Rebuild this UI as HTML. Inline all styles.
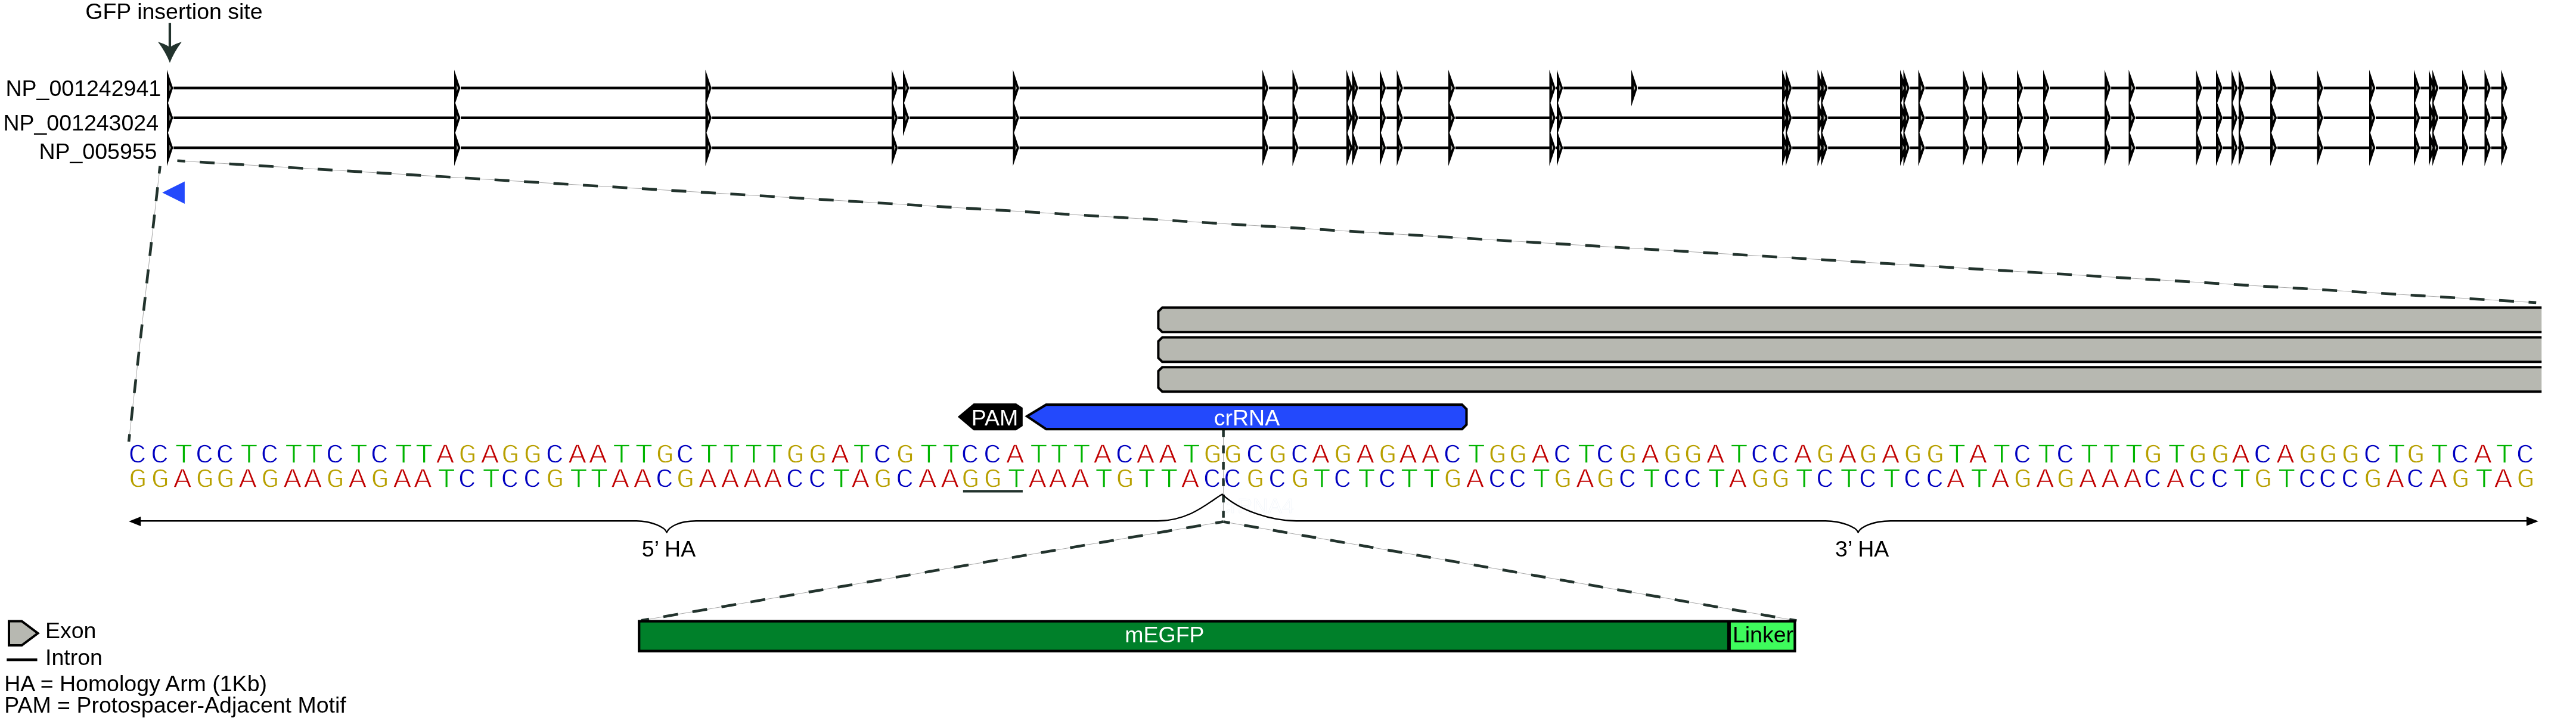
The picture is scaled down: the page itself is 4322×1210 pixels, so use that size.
<!DOCTYPE html>
<html lang="en"><head><meta charset="utf-8"><title>GFP insertion site</title>
<style>html,body{margin:0;padding:0;background:#fff}body{width:4322px;height:1210px;overflow:hidden}svg{display:block;will-change:transform}</style>
</head><body>
<svg width="4322" height="1210" viewBox="0 0 4322 1210">
<rect width="4322" height="1210" fill="#fff"/>
<text x="2046.5" y="861.3" font-family='"Liberation Sans", Arial, sans-serif' font-size="35.5" fill="#fff" stroke="#f1f5fa" stroke-width="0.7">crRNA4</text>
<g id="zoomlines">
<line x1="297.5" y1="269.74" x2="4255.2" y2="507.9" stroke="#a8a8a8" stroke-width="1"/>
<line x1="297.5" y1="269.74" x2="4255.2" y2="507.9" stroke="#22332d" stroke-width="4.6" stroke-dasharray="25 24.55" stroke-dashoffset="11.9"/>
<line x1="268.5" y1="278.7" x2="216.07" y2="741.25" stroke="#a8a8a8" stroke-width="1"/>
<line x1="268.5" y1="278.7" x2="216.07" y2="741.25" stroke="#22332d" stroke-width="4.6" stroke-dasharray="23.25 23.09" stroke-dashoffset="10.6"/>
<line x1="2052.6" y1="720" x2="2052.6" y2="868.8" stroke="#a8a8a8" stroke-width="1"/>
<line x1="2052.6" y1="720" x2="2052.6" y2="868.8" stroke="#22332d" stroke-width="4.5" stroke-dasharray="13.2 14.3" stroke-dashoffset="0"/>
<line x1="2052.4" y1="875.5" x2="1076" y2="1041.3" stroke="#a8a8a8" stroke-width="1"/>
<line x1="2052.4" y1="875.5" x2="1076" y2="1041.3" stroke="#22332d" stroke-width="4.6" stroke-dasharray="25 24.44" stroke-dashoffset="11.5"/>
<line x1="2052.4" y1="875.5" x2="3014.4" y2="1041.6" stroke="#a8a8a8" stroke-width="1"/>
<line x1="2052.4" y1="875.5" x2="3014.4" y2="1041.6" stroke="#22332d" stroke-width="4.6" stroke-dasharray="24.6 24.26" stroke-dashoffset="13.25"/>
</g>
<path fill="#2349fc" d="M272.2,323.3L309.9,304.4L309.9,342.1Z"/>
<g id="tracks">
<line x1="288" y1="147.75" x2="4203" y2="147.75" stroke="#000" stroke-width="4.4"/>
<line x1="288" y1="197.8" x2="4203" y2="197.8" stroke="#000" stroke-width="4.4"/>
<line x1="288" y1="248" x2="4203" y2="248" stroke="#000" stroke-width="4.4"/>
<path fill="#fff" d="M289.9,144.75h1.2v6h-1.2ZM289.9,194.8h1.2v6h-1.2ZM289.9,245h1.2v6h-1.2ZM771.9,144.75h1.2v6h-1.2ZM771.9,194.8h1.2v6h-1.2ZM771.9,245h1.2v6h-1.2ZM1193.4,144.75h1.2v6h-1.2ZM1193.4,194.8h1.2v6h-1.2ZM1193.4,245h1.2v6h-1.2ZM1505.9,144.75h1.2v6h-1.2ZM1505.9,194.8h1.2v6h-1.2ZM1505.9,245h1.2v6h-1.2ZM1524.9,144.75h1.2v6h-1.2ZM1524.9,194.8h1.2v6h-1.2ZM1709.4,144.75h1.2v6h-1.2ZM1709.4,194.8h1.2v6h-1.2ZM1709.4,245h1.2v6h-1.2ZM2127.9,144.75h1.2v6h-1.2ZM2127.9,194.8h1.2v6h-1.2ZM2127.9,245h1.2v6h-1.2ZM2178.4,144.75h1.2v6h-1.2ZM2178.4,194.8h1.2v6h-1.2ZM2178.4,245h1.2v6h-1.2ZM2268.9,144.75h1.2v6h-1.2ZM2268.9,194.8h1.2v6h-1.2ZM2268.9,245h1.2v6h-1.2ZM2278.4,144.75h1.2v6h-1.2ZM2278.4,194.8h1.2v6h-1.2ZM2278.4,245h1.2v6h-1.2ZM2324.9,144.75h1.2v6h-1.2ZM2324.9,194.8h1.2v6h-1.2ZM2324.9,245h1.2v6h-1.2ZM2353.4,144.75h1.2v6h-1.2ZM2353.4,194.8h1.2v6h-1.2ZM2353.4,245h1.2v6h-1.2ZM2440.6,144.75h1.2v6h-1.2ZM2440.6,194.8h1.2v6h-1.2ZM2440.6,245h1.2v6h-1.2ZM2609.4,144.75h1.2v6h-1.2ZM2609.4,194.8h1.2v6h-1.2ZM2609.4,245h1.2v6h-1.2ZM2621.9,144.75h1.2v6h-1.2ZM2621.9,194.8h1.2v6h-1.2ZM2621.9,245h1.2v6h-1.2ZM2746.9,144.75h1.2v6h-1.2ZM2999.9,144.75h1.2v6h-1.2ZM2999.9,194.8h1.2v6h-1.2ZM2999.9,245h1.2v6h-1.2ZM3005.9,144.75h1.2v6h-1.2ZM3005.9,194.8h1.2v6h-1.2ZM3005.9,245h1.2v6h-1.2ZM3059.3,144.75h1.2v6h-1.2ZM3059.3,194.8h1.2v6h-1.2ZM3059.3,245h1.2v6h-1.2ZM3066,144.75h1.2v6h-1.2ZM3066,194.8h1.2v6h-1.2ZM3066,245h1.2v6h-1.2ZM3197.9,144.75h1.2v6h-1.2ZM3197.9,194.8h1.2v6h-1.2ZM3197.9,245h1.2v6h-1.2ZM3203.4,144.75h1.2v6h-1.2ZM3203.4,194.8h1.2v6h-1.2ZM3203.4,245h1.2v6h-1.2ZM3229.1,144.75h1.2v6h-1.2ZM3229.1,194.8h1.2v6h-1.2ZM3229.1,245h1.2v6h-1.2ZM3303.4,144.75h1.2v6h-1.2ZM3303.4,194.8h1.2v6h-1.2ZM3303.4,245h1.2v6h-1.2ZM3334.9,144.75h1.2v6h-1.2ZM3334.9,194.8h1.2v6h-1.2ZM3334.9,245h1.2v6h-1.2ZM3393.9,144.75h1.2v6h-1.2ZM3393.9,194.8h1.2v6h-1.2ZM3393.9,245h1.2v6h-1.2ZM3437.9,144.75h1.2v6h-1.2ZM3437.9,194.8h1.2v6h-1.2ZM3437.9,245h1.2v6h-1.2ZM3540.9,144.75h1.2v6h-1.2ZM3540.9,194.8h1.2v6h-1.2ZM3540.9,245h1.2v6h-1.2ZM3582.1,144.75h1.2v6h-1.2ZM3582.1,194.8h1.2v6h-1.2ZM3582.1,245h1.2v6h-1.2ZM3694.4,144.75h1.2v6h-1.2ZM3694.4,194.8h1.2v6h-1.2ZM3694.4,245h1.2v6h-1.2ZM3728.6,144.75h1.2v6h-1.2ZM3728.6,194.8h1.2v6h-1.2ZM3728.6,245h1.2v6h-1.2ZM3753.9,144.75h1.2v6h-1.2ZM3753.9,194.8h1.2v6h-1.2ZM3753.9,245h1.2v6h-1.2ZM3765.9,144.75h1.2v6h-1.2ZM3765.9,194.8h1.2v6h-1.2ZM3765.9,245h1.2v6h-1.2ZM3819.6,144.75h1.2v6h-1.2ZM3819.6,194.8h1.2v6h-1.2ZM3819.6,245h1.2v6h-1.2ZM3897.4,144.75h1.2v6h-1.2ZM3897.4,194.8h1.2v6h-1.2ZM3897.4,245h1.2v6h-1.2ZM3984.9,144.75h1.2v6h-1.2ZM3984.9,194.8h1.2v6h-1.2ZM3984.9,245h1.2v6h-1.2ZM4059.9,144.75h1.2v6h-1.2ZM4059.9,194.8h1.2v6h-1.2ZM4059.9,245h1.2v6h-1.2ZM4084.9,144.75h1.2v6h-1.2ZM4084.9,194.8h1.2v6h-1.2ZM4084.9,245h1.2v6h-1.2ZM4090.9,144.75h1.2v6h-1.2ZM4090.9,194.8h1.2v6h-1.2ZM4090.9,245h1.2v6h-1.2ZM4140.9,144.75h1.2v6h-1.2ZM4140.9,194.8h1.2v6h-1.2ZM4140.9,245h1.2v6h-1.2ZM4178.4,144.75h1.2v6h-1.2ZM4178.4,194.8h1.2v6h-1.2ZM4178.4,245h1.2v6h-1.2ZM4206.4,144.75h1.2v6h-1.2ZM4206.4,194.8h1.2v6h-1.2ZM4206.4,245h1.2v6h-1.2Z"/>
<path fill="#000" d="M280,116.95L290.2,147.75L280,178.55ZM280,167L290.2,197.8L280,228.6ZM280,217.2L290.2,248L280,278.8ZM762,116.95L772.2,147.75L762,178.55ZM762,167L772.2,197.8L762,228.6ZM762,217.2L772.2,248L762,278.8ZM1183.5,116.95L1193.7,147.75L1183.5,178.55ZM1183.5,167L1193.7,197.8L1183.5,228.6ZM1183.5,217.2L1193.7,248L1183.5,278.8ZM1496,116.95L1506.2,147.75L1496,178.55ZM1496,167L1506.2,197.8L1496,228.6ZM1496,217.2L1506.2,248L1496,278.8ZM1515,116.95L1525.2,147.75L1515,178.55ZM1515,167L1525.2,197.8L1515,228.6ZM1699.5,116.95L1709.7,147.75L1699.5,178.55ZM1699.5,167L1709.7,197.8L1699.5,228.6ZM1699.5,217.2L1709.7,248L1699.5,278.8ZM2118,116.95L2128.2,147.75L2118,178.55ZM2118,167L2128.2,197.8L2118,228.6ZM2118,217.2L2128.2,248L2118,278.8ZM2168.5,116.95L2178.7,147.75L2168.5,178.55ZM2168.5,167L2178.7,197.8L2168.5,228.6ZM2168.5,217.2L2178.7,248L2168.5,278.8ZM2259,116.95L2269.2,147.75L2259,178.55ZM2259,167L2269.2,197.8L2259,228.6ZM2259,217.2L2269.2,248L2259,278.8ZM2268.5,116.95L2278.7,147.75L2268.5,178.55ZM2268.5,167L2278.7,197.8L2268.5,228.6ZM2268.5,217.2L2278.7,248L2268.5,278.8ZM2315,116.95L2325.2,147.75L2315,178.55ZM2315,167L2325.2,197.8L2315,228.6ZM2315,217.2L2325.2,248L2315,278.8ZM2343.5,116.95L2353.7,147.75L2343.5,178.55ZM2343.5,167L2353.7,197.8L2343.5,228.6ZM2343.5,217.2L2353.7,248L2343.5,278.8ZM2430,116.95L2440.9,147.75L2430,178.55ZM2430,167L2440.9,197.8L2430,228.6ZM2430,217.2L2440.9,248L2430,278.8ZM2599.5,116.95L2609.7,147.75L2599.5,178.55ZM2599.5,167L2609.7,197.8L2599.5,228.6ZM2599.5,217.2L2609.7,248L2599.5,278.8ZM2612,116.95L2622.2,147.75L2612,178.55ZM2612,167L2622.2,197.8L2612,228.6ZM2612,217.2L2622.2,248L2612,278.8ZM2737,116.95L2747.2,147.75L2737,178.55ZM2990,116.95L3000.2,147.75L2990,178.55ZM2990,167L3000.2,197.8L2990,228.6ZM2990,217.2L3000.2,248L2990,278.8ZM2996,116.95L3006.2,147.75L2996,178.55ZM2996,167L3006.2,197.8L2996,228.6ZM2996,217.2L3006.2,248L2996,278.8ZM3049.4,116.95L3059.6,147.75L3049.4,178.55ZM3049.4,167L3059.6,197.8L3049.4,228.6ZM3049.4,217.2L3059.6,248L3049.4,278.8ZM3055.4,116.95L3066.3,147.75L3055.4,178.55ZM3055.4,167L3066.3,197.8L3055.4,228.6ZM3055.4,217.2L3066.3,248L3055.4,278.8ZM3188,116.95L3198.2,147.75L3188,178.55ZM3188,167L3198.2,197.8L3188,228.6ZM3188,217.2L3198.2,248L3188,278.8ZM3193.5,116.95L3203.7,147.75L3193.5,178.55ZM3193.5,167L3203.7,197.8L3193.5,228.6ZM3193.5,217.2L3203.7,248L3193.5,278.8ZM3218.5,116.95L3229.4,147.75L3218.5,178.55ZM3218.5,167L3229.4,197.8L3218.5,228.6ZM3218.5,217.2L3229.4,248L3218.5,278.8ZM3293.5,116.95L3303.7,147.75L3293.5,178.55ZM3293.5,167L3303.7,197.8L3293.5,228.6ZM3293.5,217.2L3303.7,248L3293.5,278.8ZM3325,116.95L3335.2,147.75L3325,178.55ZM3325,167L3335.2,197.8L3325,228.6ZM3325,217.2L3335.2,248L3325,278.8ZM3384,116.95L3394.2,147.75L3384,178.55ZM3384,167L3394.2,197.8L3384,228.6ZM3384,217.2L3394.2,248L3384,278.8ZM3428,116.95L3438.2,147.75L3428,178.55ZM3428,167L3438.2,197.8L3428,228.6ZM3428,217.2L3438.2,248L3428,278.8ZM3531,116.95L3541.2,147.75L3531,178.55ZM3531,167L3541.2,197.8L3531,228.6ZM3531,217.2L3541.2,248L3531,278.8ZM3571.5,116.95L3582.4,147.75L3571.5,178.55ZM3571.5,167L3582.4,197.8L3571.5,228.6ZM3571.5,217.2L3582.4,248L3571.5,278.8ZM3684.5,116.95L3694.7,147.75L3684.5,178.55ZM3684.5,167L3694.7,197.8L3684.5,228.6ZM3684.5,217.2L3694.7,248L3684.5,278.8ZM3718,116.95L3728.9,147.75L3718,178.55ZM3718,167L3728.9,197.8L3718,228.6ZM3718,217.2L3728.9,248L3718,278.8ZM3744,116.95L3754.2,147.75L3744,178.55ZM3744,167L3754.2,197.8L3744,228.6ZM3744,217.2L3754.2,248L3744,278.8ZM3756,116.95L3766.2,147.75L3756,178.55ZM3756,167L3766.2,197.8L3756,228.6ZM3756,217.2L3766.2,248L3756,278.8ZM3809,116.95L3819.9,147.75L3809,178.55ZM3809,167L3819.9,197.8L3809,228.6ZM3809,217.2L3819.9,248L3809,278.8ZM3887.5,116.95L3897.7,147.75L3887.5,178.55ZM3887.5,167L3897.7,197.8L3887.5,228.6ZM3887.5,217.2L3897.7,248L3887.5,278.8ZM3975,116.95L3985.2,147.75L3975,178.55ZM3975,167L3985.2,197.8L3975,228.6ZM3975,217.2L3985.2,248L3975,278.8ZM4050,116.95L4060.2,147.75L4050,178.55ZM4050,167L4060.2,197.8L4050,228.6ZM4050,217.2L4060.2,248L4050,278.8ZM4075,116.95L4085.2,147.75L4075,178.55ZM4075,167L4085.2,197.8L4075,228.6ZM4075,217.2L4085.2,248L4075,278.8ZM4081,116.95L4091.2,147.75L4081,178.55ZM4081,167L4091.2,197.8L4081,228.6ZM4081,217.2L4091.2,248L4081,278.8ZM4131,116.95L4141.2,147.75L4131,178.55ZM4131,167L4141.2,197.8L4131,228.6ZM4131,217.2L4141.2,248L4131,278.8ZM4168.5,116.95L4178.7,147.75L4168.5,178.55ZM4168.5,167L4178.7,197.8L4168.5,228.6ZM4168.5,217.2L4178.7,248L4168.5,278.8ZM4196.5,116.95L4206.7,147.75L4196.5,178.55ZM4196.5,167L4206.7,197.8L4196.5,228.6ZM4196.5,217.2L4206.7,248L4196.5,278.8Z"/>
<path fill="#b7b8b1" d="M284.3,142.55L286.6,147.75L284.3,152.95ZM284.3,192.6L286.6,197.8L284.3,203ZM284.3,242.8L286.6,248L284.3,253.2ZM766.3,142.55L768.6,147.75L766.3,152.95ZM766.3,192.6L768.6,197.8L766.3,203ZM766.3,242.8L768.6,248L766.3,253.2ZM1187.8,142.55L1190.1,147.75L1187.8,152.95ZM1187.8,192.6L1190.1,197.8L1187.8,203ZM1187.8,242.8L1190.1,248L1187.8,253.2ZM1500.3,142.55L1502.6,147.75L1500.3,152.95ZM1500.3,192.6L1502.6,197.8L1500.3,203ZM1500.3,242.8L1502.6,248L1500.3,253.2ZM1519.3,142.55L1521.6,147.75L1519.3,152.95ZM1519.3,192.6L1521.6,197.8L1519.3,203ZM1703.8,142.55L1706.1,147.75L1703.8,152.95ZM1703.8,192.6L1706.1,197.8L1703.8,203ZM1703.8,242.8L1706.1,248L1703.8,253.2ZM2122.3,142.55L2124.6,147.75L2122.3,152.95ZM2122.3,192.6L2124.6,197.8L2122.3,203ZM2122.3,242.8L2124.6,248L2122.3,253.2ZM2172.8,142.55L2175.1,147.75L2172.8,152.95ZM2172.8,192.6L2175.1,197.8L2172.8,203ZM2172.8,242.8L2175.1,248L2172.8,253.2ZM2263.3,142.55L2265.6,147.75L2263.3,152.95ZM2263.3,192.6L2265.6,197.8L2263.3,203ZM2263.3,242.8L2265.6,248L2263.3,253.2ZM2272.8,142.55L2275.1,147.75L2272.8,152.95ZM2272.8,192.6L2275.1,197.8L2272.8,203ZM2272.8,242.8L2275.1,248L2272.8,253.2ZM2319.3,142.55L2321.6,147.75L2319.3,152.95ZM2319.3,192.6L2321.6,197.8L2319.3,203ZM2319.3,242.8L2321.6,248L2319.3,253.2ZM2347.8,142.55L2350.1,147.75L2347.8,152.95ZM2347.8,192.6L2350.1,197.8L2347.8,203ZM2347.8,242.8L2350.1,248L2347.8,253.2ZM2434.3,142.55L2437.3,147.75L2434.3,152.95ZM2434.3,192.6L2437.3,197.8L2434.3,203ZM2434.3,242.8L2437.3,248L2434.3,253.2ZM2603.8,142.55L2606.1,147.75L2603.8,152.95ZM2603.8,192.6L2606.1,197.8L2603.8,203ZM2603.8,242.8L2606.1,248L2603.8,253.2ZM2616.3,142.55L2618.6,147.75L2616.3,152.95ZM2616.3,192.6L2618.6,197.8L2616.3,203ZM2616.3,242.8L2618.6,248L2616.3,253.2ZM2741.3,142.55L2743.6,147.75L2741.3,152.95ZM2994.3,142.55L2996.6,147.75L2994.3,152.95ZM2994.3,192.6L2996.6,197.8L2994.3,203ZM2994.3,242.8L2996.6,248L2994.3,253.2ZM3000.3,142.55L3002.6,147.75L3000.3,152.95ZM3000.3,192.6L3002.6,197.8L3000.3,203ZM3000.3,242.8L3002.6,248L3000.3,253.2ZM3053.7,142.55L3056,147.75L3053.7,152.95ZM3053.7,192.6L3056,197.8L3053.7,203ZM3053.7,242.8L3056,248L3053.7,253.2ZM3059.7,142.55L3062.7,147.75L3059.7,152.95ZM3059.7,192.6L3062.7,197.8L3059.7,203ZM3059.7,242.8L3062.7,248L3059.7,253.2ZM3192.3,142.55L3194.6,147.75L3192.3,152.95ZM3192.3,192.6L3194.6,197.8L3192.3,203ZM3192.3,242.8L3194.6,248L3192.3,253.2ZM3197.8,142.55L3200.1,147.75L3197.8,152.95ZM3197.8,192.6L3200.1,197.8L3197.8,203ZM3197.8,242.8L3200.1,248L3197.8,253.2ZM3222.8,142.55L3225.8,147.75L3222.8,152.95ZM3222.8,192.6L3225.8,197.8L3222.8,203ZM3222.8,242.8L3225.8,248L3222.8,253.2ZM3297.8,142.55L3300.1,147.75L3297.8,152.95ZM3297.8,192.6L3300.1,197.8L3297.8,203ZM3297.8,242.8L3300.1,248L3297.8,253.2ZM3329.3,142.55L3331.6,147.75L3329.3,152.95ZM3329.3,192.6L3331.6,197.8L3329.3,203ZM3329.3,242.8L3331.6,248L3329.3,253.2ZM3388.3,142.55L3390.6,147.75L3388.3,152.95ZM3388.3,192.6L3390.6,197.8L3388.3,203ZM3388.3,242.8L3390.6,248L3388.3,253.2ZM3432.3,142.55L3434.6,147.75L3432.3,152.95ZM3432.3,192.6L3434.6,197.8L3432.3,203ZM3432.3,242.8L3434.6,248L3432.3,253.2ZM3535.3,142.55L3537.6,147.75L3535.3,152.95ZM3535.3,192.6L3537.6,197.8L3535.3,203ZM3535.3,242.8L3537.6,248L3535.3,253.2ZM3575.8,142.55L3578.8,147.75L3575.8,152.95ZM3575.8,192.6L3578.8,197.8L3575.8,203ZM3575.8,242.8L3578.8,248L3575.8,253.2ZM3688.8,142.55L3691.1,147.75L3688.8,152.95ZM3688.8,192.6L3691.1,197.8L3688.8,203ZM3688.8,242.8L3691.1,248L3688.8,253.2ZM3722.3,142.55L3725.3,147.75L3722.3,152.95ZM3722.3,192.6L3725.3,197.8L3722.3,203ZM3722.3,242.8L3725.3,248L3722.3,253.2ZM3748.3,142.55L3750.6,147.75L3748.3,152.95ZM3748.3,192.6L3750.6,197.8L3748.3,203ZM3748.3,242.8L3750.6,248L3748.3,253.2ZM3760.3,142.55L3762.6,147.75L3760.3,152.95ZM3760.3,192.6L3762.6,197.8L3760.3,203ZM3760.3,242.8L3762.6,248L3760.3,253.2ZM3813.3,142.55L3816.3,147.75L3813.3,152.95ZM3813.3,192.6L3816.3,197.8L3813.3,203ZM3813.3,242.8L3816.3,248L3813.3,253.2ZM3891.8,142.55L3894.1,147.75L3891.8,152.95ZM3891.8,192.6L3894.1,197.8L3891.8,203ZM3891.8,242.8L3894.1,248L3891.8,253.2ZM3979.3,142.55L3981.6,147.75L3979.3,152.95ZM3979.3,192.6L3981.6,197.8L3979.3,203ZM3979.3,242.8L3981.6,248L3979.3,253.2ZM4054.3,142.55L4056.6,147.75L4054.3,152.95ZM4054.3,192.6L4056.6,197.8L4054.3,203ZM4054.3,242.8L4056.6,248L4054.3,253.2ZM4079.3,142.55L4081.6,147.75L4079.3,152.95ZM4079.3,192.6L4081.6,197.8L4079.3,203ZM4079.3,242.8L4081.6,248L4079.3,253.2ZM4085.3,142.55L4087.6,147.75L4085.3,152.95ZM4085.3,192.6L4087.6,197.8L4085.3,203ZM4085.3,242.8L4087.6,248L4085.3,253.2ZM4135.3,142.55L4137.6,147.75L4135.3,152.95ZM4135.3,192.6L4137.6,197.8L4135.3,203ZM4135.3,242.8L4137.6,248L4135.3,253.2ZM4172.8,142.55L4175.1,147.75L4172.8,152.95ZM4172.8,192.6L4175.1,197.8L4172.8,203ZM4172.8,242.8L4175.1,248L4172.8,253.2ZM4200.8,142.55L4203.1,147.75L4200.8,152.95ZM4200.8,192.6L4203.1,197.8L4200.8,203ZM4200.8,242.8L4203.1,248L4200.8,253.2Z"/>
</g>
<g font-family='"Liberation Sans", Arial, sans-serif' font-size="37.5" fill="#000">
<text x="143.3" y="32">GFP insertion site</text>
<text x="9.5" y="161">NP_001242941</text>
<text x="5.4" y="219">NP_001243024</text>
<text x="65.4" y="267">NP_005955</text>
</g>
<line x1="284.95" y1="38.7" x2="284.95" y2="82" stroke="#22332d" stroke-width="4.2"/>
<path fill="#22332d" d="M265,70.2 Q276,73.4 283,78 L287,78 Q294,73.4 304.9,70.2 Q291.5,88 284.95,105.6 Q278.4,88 265,70.2Z"/>
<g id="exons" stroke="#000" stroke-width="4" fill="#b7b8b1" stroke-linejoin="miter">
<path d="M4264.25,516.25L1950,516.25L1943.4,522.85L1943.4,550.65L1950,557.25L4264.25,557.25"/>
<path d="M4264.25,566.25L1950,566.25L1943.4,572.85L1943.4,600.65L1950,607.25L4264.25,607.25"/>
<path d="M4264.25,616.25L1950,616.25L1943.4,622.85L1943.4,650.65L1950,657.25L4264.25,657.25"/>
</g>
<path fill="#000" d="M1606.8,699.4L1633.7,677.1L1704.8,677.1L1715.8,684.3L1715.8,714.9L1704.8,722.2L1633.7,722.2Z"/>
<path fill="#2349fc" stroke="#000" stroke-width="4.1" d="M1723.2,698.6L1755.3,679.15L2453,679.15L2460.5,686.6L2460.5,712.6L2453,720.1L1755.3,720.1Z"/>
<g font-family='"Liberation Sans", Arial, sans-serif' font-size="37.5" fill="#fff">
<text x="1669" y="713.75" text-anchor="middle">PAM</text>
<text x="2092" y="713.75" text-anchor="middle">crRNA</text>
</g>
<style>.A{fill:#c00000}.C{fill:#0000c0}.G{fill:#b8a000}.T{fill:#00b400}</style>
<g font-family='"Liberation Mono", "DejaVu Sans Mono", monospace' font-size="45.5" text-anchor="middle" stroke="#fff" stroke-width="1.3" transform="scale(1.13,1)">
<text x="204.03 237.21 273.05 303.58 334 369.85 400.38 436.22 466.64 497.17 533.01 563.54 599.38 629.8 660.95 694.14 727.32 757.74 790.93 823.5 857.3 887.72 922.94 956.13 987.28 1017.08 1052.92 1086.11 1119.29 1149.71 1180.86 1214.05 1247.23 1279.69 1310.22 1344.03 1379.25 1412.43 1440.2 1473.38 1507.19 1542.41 1572.83 1606.02 1637.17 1669.73 1700.77 1733.96 1769.18 1800.33 1830.75 1863.32 1897.12 1929.69 1960.73 1993.92 2027.1 2060.29 2090.71 2123.89 2156.46 2192.3 2223.45 2253.87 2287.06 2319.62 2355.46 2383.23 2417.04 2450.22 2483.41 2513.83 2547.01 2582.23 2612.77 2643.19 2676.99 2710.18 2743.36 2773.78 2806.97 2840.15 2873.34 2905.8 2936.95 2972.17 3002.7 3038.54 3066.31 3102.15 3135.33 3168.52 3196.9 3232.12 3263.27 3296.46 3326.88 3359.45 3393.25 3426.44 3456.86 3490.04 3522.61 3558.45 3586.84 3622.06 3652.59 3686.39 3718.85 3749.38" y="777.3"><tspan class="C">CC</tspan><tspan class="T">T</tspan><tspan class="C">CC</tspan><tspan class="T">T</tspan><tspan class="C">C</tspan><tspan class="T">TT</tspan><tspan class="C">C</tspan><tspan class="T">T</tspan><tspan class="C">C</tspan><tspan class="T">TT</tspan><tspan class="A">A</tspan><tspan class="G">G</tspan><tspan class="A">A</tspan><tspan class="G">GG</tspan><tspan class="C">C</tspan><tspan class="A">AA</tspan><tspan class="T">TT</tspan><tspan class="G">G</tspan><tspan class="C">C</tspan><tspan class="T">TTTT</tspan><tspan class="G">GG</tspan><tspan class="A">A</tspan><tspan class="T">T</tspan><tspan class="C">C</tspan><tspan class="G">G</tspan><tspan class="T">TT</tspan><tspan class="C">CC</tspan><tspan class="A">A</tspan><tspan class="T">TTT</tspan><tspan class="A">A</tspan><tspan class="C">C</tspan><tspan class="A">AA</tspan><tspan class="T">T</tspan><tspan class="G">GG</tspan><tspan class="C">C</tspan><tspan class="G">G</tspan><tspan class="C">C</tspan><tspan class="A">A</tspan><tspan class="G">G</tspan><tspan class="A">A</tspan><tspan class="G">G</tspan><tspan class="A">AA</tspan><tspan class="C">C</tspan><tspan class="T">T</tspan><tspan class="G">GG</tspan><tspan class="A">A</tspan><tspan class="C">C</tspan><tspan class="T">T</tspan><tspan class="C">C</tspan><tspan class="G">G</tspan><tspan class="A">A</tspan><tspan class="G">GG</tspan><tspan class="A">A</tspan><tspan class="T">T</tspan><tspan class="C">CC</tspan><tspan class="A">A</tspan><tspan class="G">G</tspan><tspan class="A">A</tspan><tspan class="G">G</tspan><tspan class="A">A</tspan><tspan class="G">GG</tspan><tspan class="T">T</tspan><tspan class="A">A</tspan><tspan class="T">T</tspan><tspan class="C">C</tspan><tspan class="T">T</tspan><tspan class="C">C</tspan><tspan class="T">TTT</tspan><tspan class="G">G</tspan><tspan class="T">T</tspan><tspan class="G">GG</tspan><tspan class="A">A</tspan><tspan class="C">C</tspan><tspan class="A">A</tspan><tspan class="G">GGG</tspan><tspan class="C">C</tspan><tspan class="T">T</tspan><tspan class="G">G</tspan><tspan class="T">T</tspan><tspan class="C">C</tspan><tspan class="A">A</tspan><tspan class="T">T</tspan><tspan class="C">C</tspan></text>
<text x="204.65 237.83 271.02 304.2 334.62 367.81 401 434.18 464.6 497.79 530.97 564.16 597.35 627.77 662.99 693.52 729.36 757.12 790.31 824.12 859.34 889.76 920.91 954.09 986.66 1017.7 1050.88 1084.07 1117.26 1147.68 1180.24 1213.43 1249.27 1277.65 1310.84 1343.41 1377.21 1410.4 1440.82 1474 1509.23 1540.38 1570.8 1603.98 1639.2 1670.35 1702.81 1736 1767.15 1799.71 1830.13 1863.94 1896.5 1930.31 1962.77 1993.3 2029.14 2059.67 2092.74 2125.93 2157.08 2190.27 2222.83 2253.25 2289.09 2320.24 2353.43 2383.85 2416.42 2452.26 2482.79 2513.21 2549.05 2580.2 2613.38 2643.81 2679.03 2709.56 2745.4 2773.16 2809 2839.54 2872.72 2903.76 2938.98 2970.13 3003.32 3036.5 3066.92 3100.11 3133.3 3166.48 3196.28 3230.09 3262.65 3295.84 3328.92 3360.07 3395.29 3425.82 3456.24 3489.42 3523.23 3556.42 3586.22 3620.02 3653.21 3688.43 3716.81 3750" y="817.8"><tspan class="G">GG</tspan><tspan class="A">A</tspan><tspan class="G">GG</tspan><tspan class="A">A</tspan><tspan class="G">G</tspan><tspan class="A">AA</tspan><tspan class="G">G</tspan><tspan class="A">A</tspan><tspan class="G">G</tspan><tspan class="A">AA</tspan><tspan class="T">T</tspan><tspan class="C">C</tspan><tspan class="T">T</tspan><tspan class="C">CC</tspan><tspan class="G">G</tspan><tspan class="T">TT</tspan><tspan class="A">AA</tspan><tspan class="C">C</tspan><tspan class="G">G</tspan><tspan class="A">AAAA</tspan><tspan class="C">CC</tspan><tspan class="T">T</tspan><tspan class="A">A</tspan><tspan class="G">G</tspan><tspan class="C">C</tspan><tspan class="A">AA</tspan><tspan class="G">GG</tspan><tspan class="T">T</tspan><tspan class="A">AAA</tspan><tspan class="T">T</tspan><tspan class="G">G</tspan><tspan class="T">TT</tspan><tspan class="A">A</tspan><tspan class="C">CC</tspan><tspan class="G">G</tspan><tspan class="C">C</tspan><tspan class="G">G</tspan><tspan class="T">T</tspan><tspan class="C">C</tspan><tspan class="T">T</tspan><tspan class="C">C</tspan><tspan class="T">TT</tspan><tspan class="G">G</tspan><tspan class="A">A</tspan><tspan class="C">CC</tspan><tspan class="T">T</tspan><tspan class="G">G</tspan><tspan class="A">A</tspan><tspan class="G">G</tspan><tspan class="C">C</tspan><tspan class="T">T</tspan><tspan class="C">CC</tspan><tspan class="T">T</tspan><tspan class="A">A</tspan><tspan class="G">GG</tspan><tspan class="T">T</tspan><tspan class="C">C</tspan><tspan class="T">T</tspan><tspan class="C">C</tspan><tspan class="T">T</tspan><tspan class="C">CC</tspan><tspan class="A">A</tspan><tspan class="T">T</tspan><tspan class="A">A</tspan><tspan class="G">G</tspan><tspan class="A">A</tspan><tspan class="G">G</tspan><tspan class="A">AAA</tspan><tspan class="C">C</tspan><tspan class="A">A</tspan><tspan class="C">CC</tspan><tspan class="T">T</tspan><tspan class="G">G</tspan><tspan class="T">T</tspan><tspan class="C">CCC</tspan><tspan class="G">G</tspan><tspan class="A">A</tspan><tspan class="C">C</tspan><tspan class="A">A</tspan><tspan class="G">G</tspan><tspan class="T">T</tspan><tspan class="A">A</tspan><tspan class="G">G</tspan></text>
</g>
<line x1="1615.8" y1="824.4" x2="1715.9" y2="824.4" stroke="#22332d" stroke-width="4.4"/>
<path d="M236,874.25 L1068,874.25 C1091.6,874.25 1115.7,884.3 1118.6,893.6 C1122,884.3 1139,874.25 1168,874.25 L1942.5,874.25 C1997.6,874.25 2031.8,839.9 2050.5,829.4 C2079.6,857.6 2135.7,874.25 2175,874.25 L3063,874.25 C3088.5,874.25 3114.5,884.3 3117.6,893.6 C3121.3,884.3 3143,874.25 3172,874.25 L4240,874.25" fill="none" stroke="#000" stroke-width="2.3" stroke-linejoin="round"/>
<path fill="#000" d="M216.1,875L236.2,867.1L236.2,882.9Z M4259,874.7L4238.9,866.9L4238.9,882.5Z"/>
<g font-family='"Liberation Sans", Arial, sans-serif' font-size="37.5" fill="#000" text-anchor="middle">
<text x="1122" y="934">5’ HA</text>
<text x="3124.2" y="934">3’ HA</text>
</g>
<rect x="1072.2" y="1042.55" width="1828.7" height="50.05" fill="#00802a"/>
<rect x="2900.9" y="1042.55" width="110.5" height="50.05" fill="#3efb5c"/>
<rect x="1072.2" y="1042.55" width="1939.2" height="50.05" fill="none" stroke="#000" stroke-width="4.3"/>
<line x1="2900.9" y1="1042.55" x2="2900.9" y2="1092.6" stroke="#000" stroke-width="6"/>
<g font-family='"Liberation Sans", Arial, sans-serif' font-size="37.5">
<text x="1953.9" y="1078" fill="#fff" text-anchor="middle">mEGFP</text>
<text x="2958" y="1078" fill="#000" text-anchor="middle">Linker</text>
</g>
<path d="M15,1042.5L36.5,1042.5L63.5,1062.75L36.5,1083L15,1083Z" fill="#b7b8b1" stroke="#000" stroke-width="4"/>
<line x1="11.25" y1="1107.3" x2="62.5" y2="1107.3" stroke="#000" stroke-width="4.6"/>
<g font-family='"Liberation Sans", Arial, sans-serif' font-size="37.5" fill="#000">
<text x="76" y="1071">Exon</text>
<text x="76" y="1116.25">Intron</text>
<text x="7.2" y="1160">HA = Homology Arm (1Kb)</text>
<text x="7.2" y="1196.3">PAM = Protospacer-Adjacent Motif</text>
</g>
</svg></body></html>
